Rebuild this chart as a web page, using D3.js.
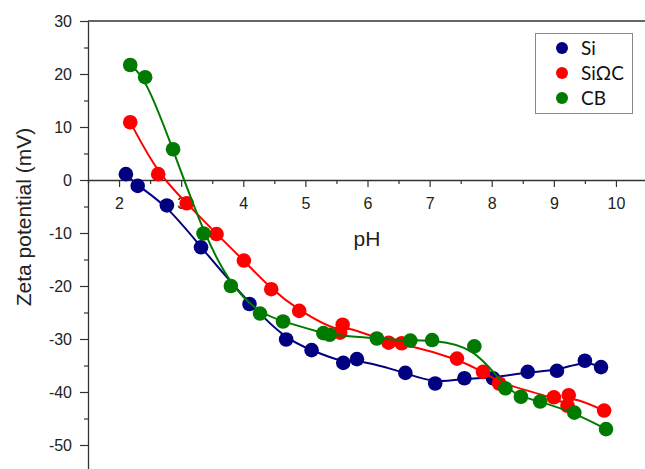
<!DOCTYPE html>
<html>
<head>
<meta charset="utf-8">
<script src="https://cdn.jsdelivr.net/npm/d3@7"></script>
<style>
  html, body { margin: 0; padding: 0; background: #fff; }
  svg { display: block; }
</style>
</head>
<body>
<svg id="chart" width="645" height="469"></svg>
<script>
// ---- data ----
const seriesNames = ["Si", "SiΩC", "CB"];
const seriesColors = ["#000080", "#ff0000", "#007a00"];

const siPH  = [2.11, 2.30, 2.77, 3.32, 4.10, 4.69, 5.10, 5.61, 5.83, 6.61, 7.09, 7.56, 8.02, 8.58, 9.05, 9.50, 9.76];
const siZeta = [1.1, -1.1, -4.8, -12.7, -23.4, -30.1, -32.1, -34.5, -33.8, -36.4, -38.4, -37.4, -37.4, -36.2, -36.0, -34.1, -35.3];

const sioPH  = [2.18, 2.63, 3.09, 3.57, 4.01, 4.45, 4.90, 5.56, 5.60, 6.34, 6.55, 7.44, 7.86, 8.12, 9.00, 9.22, 9.24, 9.81];
const sioZeta = [10.9, 1.1, -4.4, -10.2, -15.2, -20.6, -24.7, -28.8, -27.3, -30.7, -30.8, -33.7, -36.2, -38.4, -41.0, -42.6, -40.6, -43.5];

const cbPH  = [2.18, 2.42, 2.87, 3.36, 3.80, 4.27, 4.64, 5.29, 5.39, 6.15, 6.69, 7.04, 7.72, 8.22, 8.47, 8.78, 9.33, 9.84];
const cbZeta = [21.7, 19.4, 5.8, -10.1, -20.0, -25.2, -26.7, -28.9, -29.2, -29.9, -30.3, -30.2, -31.4, -39.3, -40.9, -41.8, -43.9, -47.0];

const xTicks = [2, 3, 4, 5, 6, 7, 8, 9, 10];
const yTicks = [30, 20, 10, 0, -10, -20, -30, -40, -50];
const xLabel = "pH";
const yLabel = "Zeta potential (mV)";

// ---- drawing ----
const svg = d3.select("#chart");
const x = d3.scaleLinear().domain([1.5, 10.5]).range([88, 647]);
const y = d3.scaleLinear().domain([-55, 30]).range([471.5, 21]);

const axisColor = "#333";
const font = "'Liberation Sans', Arial, sans-serif";
const fmt = d => String(d);

// top frame
svg.append("line")
  .attr("x1", x(1.5)).attr("x2", x(10.5))
  .attr("y1", y(30)).attr("y2", y(30))
  .attr("stroke", axisColor).attr("stroke-width", 1.3);

const xMinor = d3.range(1.5, 10.51, 0.5).filter(v => Math.abs(v - Math.round(v)) > 0.01);
const yMinor = d3.range(-55, 30.01, 5).filter(v => Math.abs(v % 10) > 0.01);

const gx = svg.append("g").attr("transform", `translate(0,${y(0)})`);
gx.call(d3.axisBottom(x).tickValues(xMinor).tickSize(4).tickFormat("").tickSizeOuter(0));
gx.select(".domain").remove();
gx.selectAll(".tick line").attr("stroke", axisColor).attr("stroke-width", 1.2);
const gx2 = svg.append("g").attr("transform", `translate(0,${y(0)})`);
gx2.call(d3.axisBottom(x).tickValues(xTicks).tickSize(7).tickPadding(11).tickSizeOuter(0).tickFormat(fmt));
gx2.select(".domain").attr("stroke", axisColor).attr("stroke-width", 1.3);
gx2.selectAll(".tick line").attr("stroke", axisColor).attr("stroke-width", 1.2);
gx2.selectAll(".tick text").attr("font-family", font).attr("font-size", 16).attr("fill", "#222");

const gy = svg.append("g").attr("transform", `translate(${x(1.5)},0)`);
gy.call(d3.axisLeft(y).tickValues(yMinor).tickSize(4).tickFormat("").tickSizeOuter(0));
gy.select(".domain").remove();
gy.selectAll(".tick line").attr("stroke", axisColor).attr("stroke-width", 1.2);
const gy2 = svg.append("g").attr("transform", `translate(${x(1.5)},0)`);
gy2.call(d3.axisLeft(y).tickValues(yTicks).tickSize(8).tickPadding(8).tickSizeOuter(0).tickFormat(fmt));
gy2.select(".domain").attr("stroke", axisColor).attr("stroke-width", 1.3);
gy2.selectAll(".tick line").attr("stroke", axisColor).attr("stroke-width", 1.2);
gy2.selectAll(".tick text").attr("font-family", font).attr("font-size", 16).attr("fill", "#222");

// axis titles
svg.append("text")
  .attr("x", 367).attr("y", 246)
  .attr("text-anchor", "middle")
  .attr("font-family", font).attr("font-size", 21).attr("fill", "#222")
  .text(xLabel);
svg.append("text")
  .attr("transform", "translate(31,217) rotate(-90)")
  .attr("text-anchor", "middle")
  .attr("font-family", font).attr("font-size", 21).attr("fill", "#222")
  .text(yLabel);

// series
const allSeries = [
  { xs: siPH, ys: siZeta },
  { xs: sioPH, ys: sioZeta },
  { xs: cbPH, ys: cbZeta }
];
const line = d3.line().x(d => x(d[0])).y(d => y(d[1])).curve(d3.curveBasis);

allSeries.forEach((s, i) => {
  const pts = s.xs.map((v, j) => [v, s.ys[j]]);
  const g = svg.append("g");
  g.append("path")
    .datum(pts)
    .attr("d", line)
    .attr("fill", "none")
    .attr("stroke", seriesColors[i])
    .attr("stroke-width", 2);
  g.selectAll("circle").data(pts).join("circle")
    .attr("cx", d => x(d[0])).attr("cy", d => y(d[1]))
    .attr("r", 7.3)
    .attr("fill", seriesColors[i]);
});

// legend
const lg = svg.append("g");
lg.append("rect")
  .attr("x", 535.5).attr("y", 33.5).attr("width", 97).attr("height", 80)
  .attr("fill", "#fff").attr("stroke", "#888").attr("stroke-width", 1);
seriesNames.forEach((n, i) => {
  const cy = 48 + i * 25;
  lg.append("circle").attr("cx", 562).attr("cy", cy).attr("r", 6).attr("fill", seriesColors[i]);
  lg.append("text").attr("x", 581).attr("y", cy + 7)
    .attr("font-family", "Lato, 'Open Sans', sans-serif").attr("font-size", 19).attr("fill", "#111")
    .text(n);
});
</script>
</body>
</html>
